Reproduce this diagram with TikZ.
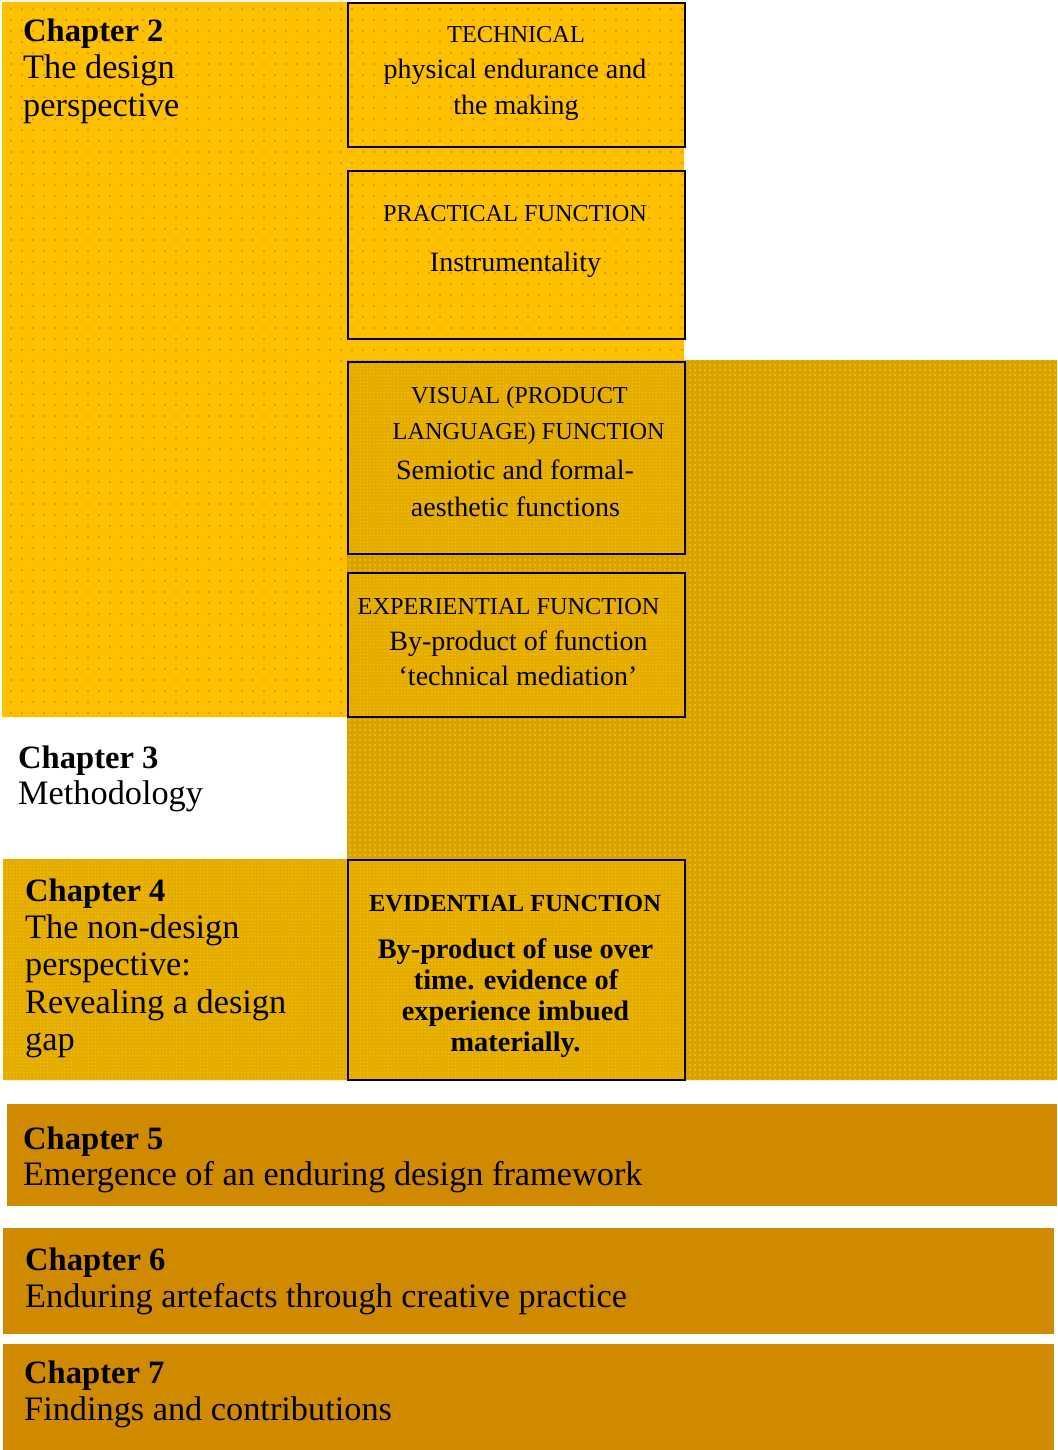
\documentclass[tikz,border=0pt]{standalone}
\usepackage{fontspec}
\setmainfont{Liberation Serif}
\usetikzlibrary{patterns.meta}

\definecolor{cYellow}{HTML}{FFC000}
\definecolor{cYellowDot}{HTML}{C99A10}
\definecolor{cGold}{HTML}{D8A300}
\definecolor{cGoldLight}{HTML}{F6C100}
\definecolor{cFine}{HTML}{E4AC00}
\definecolor{cFineLight}{HTML}{FAC300}
\definecolor{cBar}{HTML}{CF8A00}

\begin{document}
\begin{tikzpicture}[x=1pt,y=-1pt,
  % dotted yellow field of the design perspective
  dotted field/.style={preaction={fill=cYellow},
    preaction={pattern={Dots[radius=1.2pt,distance=11pt]},pattern color=cYellowDot}},
  % coarse gold texture of the non-design perspective
  gold field/.style={preaction={fill=cGold},
    preaction={pattern={Dots[radius=1.1pt,distance=5pt]},pattern color=cGoldLight}},
  % fine checker texture
  fine field/.style={preaction={fill=cFine},
    preaction={pattern={Dots[radius=0.7pt,distance=3.4pt]},pattern color=cFineLight}},
  fnbox/.style={draw=black,line width=1.6pt,rectangle,inner sep=0pt,
    anchor=north west,minimum width=337pt},
  chapbar/.style={rectangle,fill=cBar,inner sep=0pt,anchor=north west},
  chapline/.style={inner sep=0pt,anchor=base west,font=\fontsize{34.3}{37.3}\selectfont},
  chaphead/.style={inner sep=0pt,anchor=base west,font=\fontsize{32.6}{37.3}\selectfont\bfseries},
  captitle/.style={inner sep=0pt,anchor=base,font=\fontsize{24.3}{30}\selectfont},
  capbody/.style={inner sep=0pt,anchor=base,font=\fontsize{28}{36}\selectfont},
  evtitle/.style={inner sep=0pt,anchor=base,font=\fontsize{24.5}{30}\selectfont\bfseries},
  evbody/.style={inner sep=0pt,anchor=base,font=\fontsize{28.3}{31.5}\selectfont\bfseries},
]
\useasboundingbox (0,0) rectangle (1057,1450);

% background fields
\path[dotted field] (2,2) -- (684,2) -- (684,360) -- (347,360) -- (347,717) -- (2,717) -- cycle;
\path[gold field] (347,360) -- (1057,360) -- (1057,1080) -- (3,1080) -- (3,859) -- (347,859) -- cycle;
\path[fine field] (3,859) rectangle (347,1080);

% function boxes
\node[fnbox,minimum height=144pt] (tech) at (347,2) {};
\node[fnbox,minimum height=168pt] (prac) at (347,170) {};
\node[fnbox,minimum height=192pt,fine field] (vis) at (347,361) {};
\node[fnbox,minimum height=144pt,fine field] (expe) at (347,572) {};
\node[fnbox,minimum height=220pt,fine field] (evid) at (347,859) {};

% chapter bars
\node[chapbar,minimum width=1050pt,minimum height=102pt] (bar5) at (7,1104) {};
\node[chapbar,minimum width=1051pt,minimum height=106pt] (bar6) at (3,1228) {};
\node[chapbar,minimum width=1051pt,minimum height=106pt] (bar7) at (3,1344) {};

% chapter labels
\node[chaphead] (c2h) at (23,42) {Chapter 2};
\node[chapline] (c2a) at (23,79) {The design};
\node[chapline] (c2b) at (23,116.5) {perspective};

\node[chaphead] (c3h) at (18,768) {Chapter 3};
\node[chapline] (c3a) at (18,804.5) {Methodology};

\node[chaphead] (c4h) at (25,901) {Chapter 4};
\node[chapline] (c4a) at (25,938) {The non-design};
\node[chapline] (c4b) at (25,975.5) {perspective:};
\node[chapline] (c4c) at (25,1013) {Revealing a design};
\node[chapline] (c4d) at (25,1050) {gap};

\node[chaphead] (c5h) at (23,1149) {Chapter 5};
\node[chapline] (c5a) at (23,1185.5) {Emergence of an enduring design framework};

\node[chaphead] (c6h) at (25,1270) {Chapter 6};
\node[chapline] (c6a) at (25,1307.5) {Enduring artefacts through creative practice};

\node[chaphead] (c7h) at (24,1383) {Chapter 7};
\node[chapline] (c7a) at (24,1420) {Findings and contributions};

% texts inside the function boxes
\node[captitle] (techT) at (516,43) {TECHNICAL};
\node[capbody] (techA) at (515,78.5) {physical endurance and};
\node[capbody] (techB) at (516,114.5) {the making};

\node[captitle] (pracT) at (515,222) {PRACTICAL FUNCTION};
\node[capbody] (pracA) at (515.5,271.5) {Instrumentality};

\node[captitle] (visT1) at (519.5,403.3) {VISUAL (PRODUCT};
\node[captitle] (visT2) at (528.7,439.3) {LANGUAGE) FUNCTION};
\node[capbody] (visA) at (515,479.3) {Semiotic and formal-};
\node[capbody] (visB) at (515.5,516) {aesthetic functions};

\node[captitle] (expT) at (508.5,614) {EXPERIENTIAL FUNCTION};
\node[capbody] (expA) at (518.5,650) {By-product of function};
\node[capbody] (expB) at (518,685.5) {‘technical mediation’};

\node[evtitle] (evT) at (515,911.7) {EVIDENTIAL FUNCTION};
\node[evbody] (evA) at (515.5,958.3) {By-product of use over};
\node[evbody] (evB) at (516,989) {time. evidence of};
\node[evbody] (evC) at (515.5,1020.3) {experience imbued};
\node[evbody] (evD) at (515.5,1051.7) {materially.};
\end{tikzpicture}
\end{document}
